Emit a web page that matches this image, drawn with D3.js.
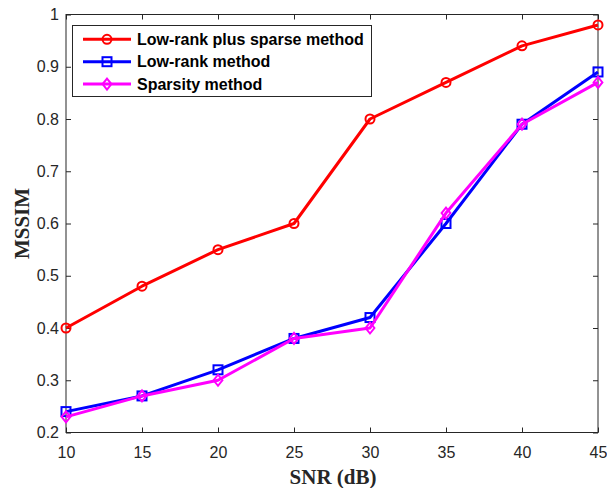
<!DOCTYPE html>
<html>
<head>
<meta charset="utf-8">
<script src="https://cdn.jsdelivr.net/npm/d3@7/dist/d3.min.js"></script>
<style>
  html, body { margin: 0; padding: 0; background: #fff; }
  svg { display: block; }
</style>
</head>
<body>
<svg id="chart" width="607" height="488"></svg>
<script>
// SNR levels (dB) on the x axis
const snr = [10, 15, 20, 25, 30, 35, 40, 45];
// MSSIM for each reconstruction method
const lowRankPlusSparse = [0.40, 0.48, 0.55, 0.60, 0.80, 0.87, 0.94, 0.98];
const lowRank = [0.24, 0.27, 0.32, 0.38, 0.42, 0.60, 0.79, 0.89];
const sparsity = [0.23, 0.27, 0.30, 0.38, 0.40, 0.62, 0.79, 0.87];
// Tick labels
const xTicks = [10, 15, 20, 25, 30, 35, 40, 45];
const yTicks = [0.2, 0.3, 0.4, 0.5, 0.6, 0.7, 0.8, 0.9, 1];

const series = [
  { name: "Low-rank plus sparse method", values: lowRankPlusSparse, color: "#ff0000", marker: "circle" },
  { name: "Low-rank method", values: lowRank, color: "#0000ff", marker: "square" },
  { name: "Sparsity method", values: sparsity, color: "#ff00ff", marker: "diamond" }
];

const svg = d3.select("#chart");
const plotLeft = 66, plotRight = 598, plotTop = 14.5, plotBottom = 432.5;
const axisColor = "#262626";

const x = d3.scaleLinear().domain([10, 45]).range([plotLeft, plotRight]);
const y = d3.scaleLinear().domain([0.2, 1]).range([plotBottom, plotTop]);

// Box around the plot area
svg.append("rect")
  .attr("x", plotLeft).attr("y", plotTop)
  .attr("width", plotRight - plotLeft).attr("height", plotBottom - plotTop)
  .attr("fill", "none").attr("stroke", axisColor).attr("stroke-width", 1);

const tickFont = "'Liberation Sans', Arial, sans-serif";

// Bottom axis with inward ticks
svg.append("g").attr("transform", `translate(0,${plotBottom})`)
  .call(d3.axisBottom(x).tickValues(xTicks).tickSizeInner(-5).tickSizeOuter(0).tickPadding(14).tickFormat(d3.format("d")));
// Left axis with inward ticks
svg.append("g").attr("transform", `translate(${plotLeft},0)`)
  .call(d3.axisLeft(y).tickValues(yTicks).tickSizeInner(-5).tickSizeOuter(0).tickPadding(7).tickFormat(d => d === 1 ? "1" : d3.format(".1f")(d)));
// Mirrored ticks on top and right edges
svg.append("g").attr("transform", `translate(0,${plotTop})`)
  .call(d3.axisTop(x).tickValues(xTicks).tickSizeInner(-5).tickSizeOuter(0).tickFormat(""));
svg.append("g").attr("transform", `translate(${plotRight},0)`)
  .call(d3.axisRight(y).tickValues(yTicks).tickSizeInner(-5).tickSizeOuter(0).tickFormat(""));

svg.selectAll(".domain").remove();
svg.selectAll(".tick line").attr("stroke", axisColor);
svg.selectAll(".tick text")
  .attr("fill", axisColor)
  .style("font-family", tickFont)
  .style("font-size", "16px");

// Data lines and markers
const line = d3.line().x((d, i) => x(snr[i])).y(d => y(d));

function drawMarker(g, type, cx, cy, color) {
  if (type === "circle") {
    g.append("circle").attr("cx", cx).attr("cy", cy).attr("r", 4.5)
      .attr("fill", "none").attr("stroke", color).attr("stroke-width", 2);
  } else if (type === "square") {
    g.append("rect").attr("x", cx - 4.5).attr("y", cy - 4.5).attr("width", 9).attr("height", 9)
      .attr("fill", "none").attr("stroke", color).attr("stroke-width", 2);
  } else {
    const r = 5.5;
    g.append("path")
      .attr("d", `M${cx},${cy - r}L${cx + r * 0.8},${cy}L${cx},${cy + r}L${cx - r * 0.8},${cy}Z`)
      .attr("fill", "none").attr("stroke", color).attr("stroke-width", 2);
  }
}

const plot = svg.append("g");
series.forEach(s => {
  plot.append("path")
    .attr("d", line(s.values))
    .attr("fill", "none").attr("stroke", s.color).attr("stroke-width", 3)
    .attr("stroke-linejoin", "round");
  const mg = plot.append("g");
  s.values.forEach((v, i) => drawMarker(mg, s.marker, x(snr[i]), y(v), s.color));
});

// Axis titles
const titleFont = "'Liberation Serif', 'Times New Roman', serif";
svg.append("text")
  .attr("x", 333).attr("y", 484)
  .attr("text-anchor", "middle")
  .style("font-family", titleFont).style("font-weight", "bold").style("font-size", "21px")
  .attr("fill", axisColor)
  .text("SNR (dB)");
svg.append("text")
  .attr("transform", `translate(29,${(plotTop + plotBottom) / 2}) rotate(-90)`)
  .attr("text-anchor", "middle")
  .style("font-family", titleFont).style("font-weight", "bold").style("font-size", "21px")
  .attr("fill", axisColor)
  .text("MSSIM");

// Legend
const legend = svg.append("g");
legend.append("rect")
  .attr("x", 72.5).attr("y", 25.5).attr("width", 299).attr("height", 71)
  .attr("fill", "#fff").attr("stroke", axisColor).attr("stroke-width", 1);
series.forEach((s, i) => {
  const ly = 39.3 + i * 22.4;
  legend.append("line")
    .attr("x1", 83).attr("x2", 131).attr("y1", ly).attr("y2", ly)
    .attr("stroke", s.color).attr("stroke-width", 3);
  drawMarker(legend, s.marker, 107, ly, s.color);
  legend.append("text")
    .attr("x", 137).attr("y", ly).attr("dy", "0.35em")
    .style("font-family", tickFont).style("font-weight", "bold").style("font-size", "16px")
    .attr("fill", "#000")
    .text(s.name);
});
</script>
</body>
</html>
